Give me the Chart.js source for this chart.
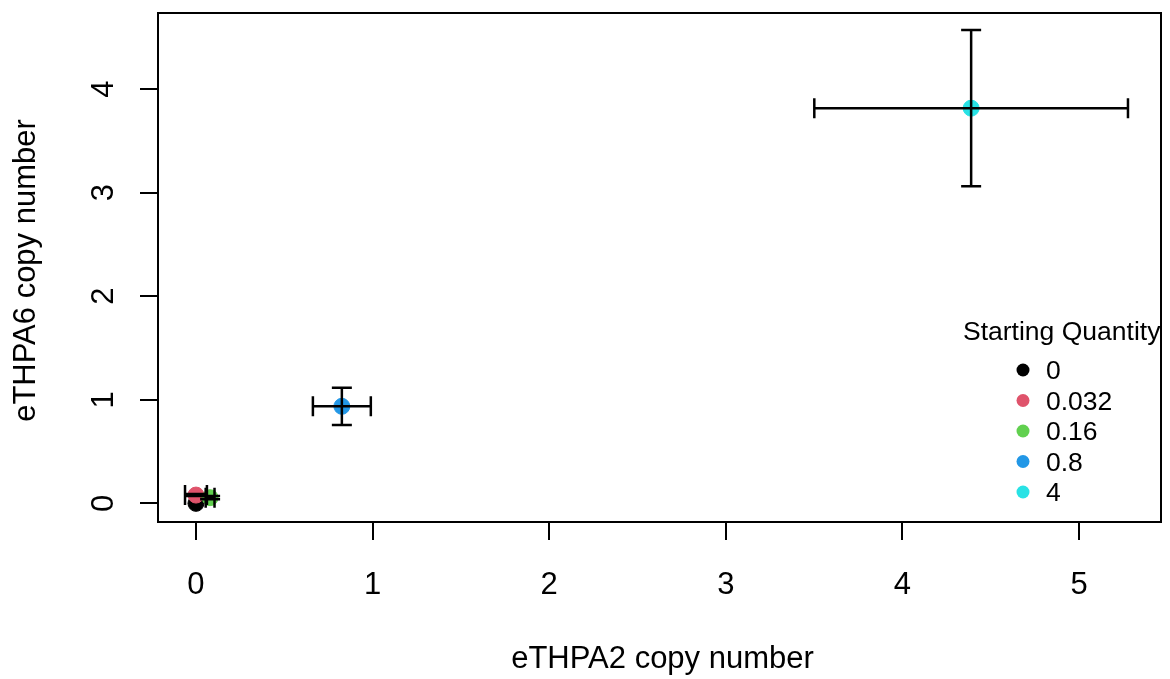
<!DOCTYPE html>
<html>
<head>
<meta charset="utf-8">
<title>eTHPA2 vs eTHPA6 copy number</title>
<script src="https://cdn.jsdelivr.net/npm/chart.js@4.4.1/dist/chart.umd.min.js"></script>
<style>
  html, body { margin: 0; padding: 0; background: #fff; }
  #plot { display: block; }
</style>
</head>
<body>
<canvas id="plot" width="1170" height="679"></canvas>
<script>
  // starting quantities and their mean copy numbers (+/- sd)
  var quantities = ['0', '0.032', '0.16', '0.8', '4'];
  var pointColors = ['#000000', '#DF536B', '#61D04F', '#2297E6', '#28E2E5'];
  var ethpa2Mean = [0, 0.0, 0.08, 0.826, 4.389];
  var ethpa6Mean = [0, 0.08, 0.055, 0.937, 3.816];
  var ethpa2Sd = [0, 0.062, 0.025, 0.164, 0.888];
  var ethpa6Sd = [0, 0.01, 0.015, 0.18, 0.755];
  var xTicks = [0, 1, 2, 3, 4, 5];
  var yTicks = [0, 1, 2, 3, 4];

  var FONT = '"Liberation Sans", Arial, Helvetica, sans-serif';

  var datasets = quantities.map(function (q, i) {
    return {
      label: q,
      data: [{ x: ethpa2Mean[i], y: ethpa6Mean[i] }],
      backgroundColor: pointColors[i],
      borderColor: pointColors[i],
      borderWidth: 1,
      pointRadius: 8,
      order: quantities.length - i
    };
  });

  // box, error bars and all the text, drawn the way base R does it
  var rPlotExtras = {
    id: 'rPlotExtras',
    afterDatasetsDraw: function (chart) {
      var ctx = chart.ctx;
      var xs = chart.scales.x;
      var ys = chart.scales.y;
      var cap = 10;
      ctx.save();
      ctx.strokeStyle = '#000';
      ctx.lineWidth = 2.5;
      for (var i = 0; i < quantities.length; i++) {
        var px = xs.getPixelForValue(ethpa2Mean[i]);
        var py = ys.getPixelForValue(ethpa6Mean[i]);
        if (ethpa2Sd[i] > 0) {
          var x0 = xs.getPixelForValue(ethpa2Mean[i] - ethpa2Sd[i]);
          var x1 = xs.getPixelForValue(ethpa2Mean[i] + ethpa2Sd[i]);
          ctx.beginPath();
          ctx.moveTo(x0, py); ctx.lineTo(x1, py);
          ctx.moveTo(x0, py - cap); ctx.lineTo(x0, py + cap);
          ctx.moveTo(x1, py - cap); ctx.lineTo(x1, py + cap);
          ctx.stroke();
        }
        if (ethpa6Sd[i] > 0) {
          var y0 = ys.getPixelForValue(ethpa6Mean[i] - ethpa6Sd[i]);
          var y1 = ys.getPixelForValue(ethpa6Mean[i] + ethpa6Sd[i]);
          ctx.beginPath();
          ctx.moveTo(px, y0); ctx.lineTo(px, y1);
          ctx.moveTo(px - cap, y0); ctx.lineTo(px + cap, y0);
          ctx.moveTo(px - cap, y1); ctx.lineTo(px + cap, y1);
          ctx.stroke();
        }
      }
      ctx.restore();
    },
    afterDraw: function (chart) {
      var ctx = chart.ctx;
      var area = chart.chartArea;
      var xs = chart.scales.x;
      var ys = chart.scales.y;
      ctx.save();

      // plot box
      ctx.strokeStyle = '#000';
      ctx.lineWidth = 2;
      ctx.strokeRect(area.left, area.top, area.right - area.left, area.bottom - area.top);

      ctx.fillStyle = '#000';
      ctx.font = '31px ' + FONT;

      // x tick labels
      ctx.textAlign = 'center';
      ctx.textBaseline = 'alphabetic';
      xTicks.forEach(function (v) {
        ctx.fillText(String(v), xs.getPixelForValue(v), 594);
      });

      // y tick labels, rotated like las = 0
      yTicks.forEach(function (v) {
        ctx.save();
        ctx.translate(113, ys.getPixelForValue(v));
        ctx.rotate(-Math.PI / 2);
        ctx.fillText(String(v), 0, 0);
        ctx.restore();
      });

      // axis titles
      ctx.fillText('eTHPA2 copy number', (area.left + area.right) / 2 + 3, 668);
      ctx.save();
      ctx.translate(35, (area.top + area.bottom) / 2 + 3);
      ctx.rotate(-Math.PI / 2);
      ctx.fillText('eTHPA6 copy number', 0, 0);
      ctx.restore();

      // legend
      ctx.font = '26.5px ' + FONT;
      ctx.textAlign = 'left';
      ctx.fillText('Starting Quantity', 963, 340);
      quantities.forEach(function (q, i) {
        var cy = 370 + i * 30.5;
        ctx.beginPath();
        ctx.arc(1023, cy, 6.5, 0, Math.PI * 2);
        ctx.fillStyle = pointColors[i];
        ctx.fill();
        ctx.fillStyle = '#000';
        ctx.fillText(q, 1046, cy + 9);
      });

      ctx.restore();
    }
  };

  var chart = new Chart(document.getElementById('plot'), {
    type: 'scatter',
    data: { datasets: datasets },
    options: {
      responsive: false,
      devicePixelRatio: 1,
      animation: false,
      layout: { padding: { top: 13, right: 8, left: 0, bottom: 0 } },
      plugins: {
        legend: { display: false },
        tooltip: { enabled: false }
      },
      scales: {
        x: {
          type: 'linear',
          min: -0.215,
          max: 5.464,
          afterBuildTicks: function (scale) {
            scale.ticks = xTicks.map(function (v) { return { value: v }; });
          },
          afterFit: function (scale) { scale.height = 157; },
          ticks: { display: false },
          border: { display: false },
          grid: {
            drawOnChartArea: false,
            drawTicks: true,
            tickLength: 18,
            color: '#000',
            lineWidth: 2
          }
        },
        y: {
          type: 'linear',
          min: -0.18,
          max: 4.735,
          afterBuildTicks: function (scale) {
            scale.ticks = yTicks.map(function (v) { return { value: v }; });
          },
          afterFit: function (scale) { scale.width = 158; },
          ticks: { display: false },
          border: { display: false },
          grid: {
            drawOnChartArea: false,
            drawTicks: true,
            tickLength: 18,
            color: '#000',
            lineWidth: 2
          }
        }
      }
    },
    plugins: [rPlotExtras]
  });
</script>
</body>
</html>
